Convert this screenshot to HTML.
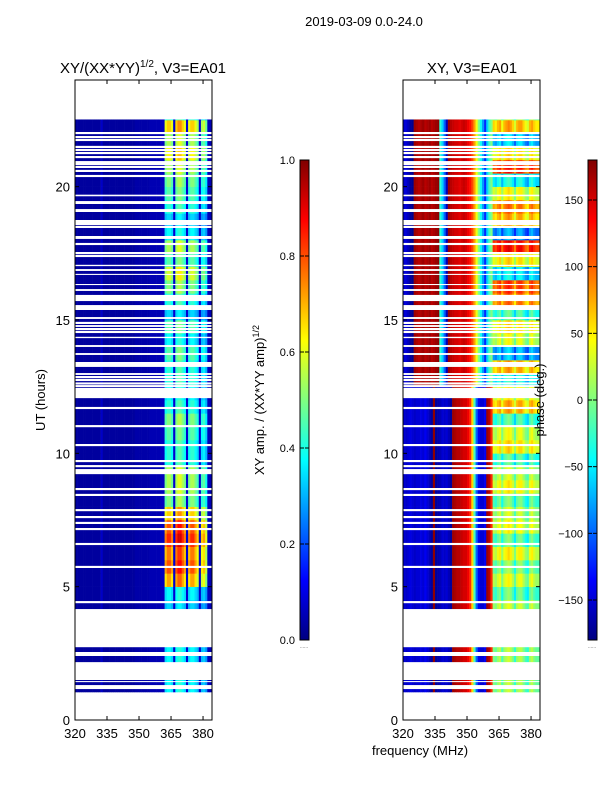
<!DOCTYPE html>
<html><head><meta charset="utf-8"><title>XY amplitude and phase</title>
<style>
html,body{margin:0;padding:0;background:#fff;}
svg{display:block;font-family:"Liberation Sans","DejaVu Sans",sans-serif;}
</style></head>
<body>
<svg id="fig" width="600" height="800" viewBox="0 0 600 800" xmlns="http://www.w3.org/2000/svg">
<defs>
<linearGradient id="jet" x1="0" y1="1" x2="0" y2="0">
<stop offset="0" stop-color="rgb(0,0,128)"/>
<stop offset="0.125" stop-color="rgb(0,0,255)"/>
<stop offset="0.375" stop-color="rgb(0,255,255)"/>
<stop offset="0.5" stop-color="rgb(128,255,128)"/>
<stop offset="0.625" stop-color="rgb(255,255,0)"/>
<stop offset="0.875" stop-color="rgb(255,0,0)"/>
<stop offset="1" stop-color="rgb(128,0,0)"/>
</linearGradient>
</defs>
<text x="364" y="26" font-size="13" text-anchor="middle">2019-03-09 0.0-24.0</text>
<text x="143" y="73" font-size="15" text-anchor="middle">XY/(XX*YY)<tspan font-size="10" dy="-6">1/2</tspan><tspan dy="6">, V3=EA01</tspan></text>
<text x="472" y="73" font-size="15" text-anchor="middle">XY, V3=EA01</text>
<g id="ampCells"></g>
<g id="phaseCells"></g>
<g id="axes"></g>
<text transform="translate(45,400) rotate(-90)" font-size="13" text-anchor="middle">UT (hours)</text>
<text x="420" y="755" font-size="13" text-anchor="middle">frequency (MHz)</text>
<rect x="300" y="160" width="9" height="480" fill="url(#jet)" stroke="#000" stroke-width="1"/>
<rect x="588" y="160" width="9" height="480" fill="url(#jet)" stroke="#000" stroke-width="1"/>
<g id="cbticks"></g>
<text transform="translate(264,400) rotate(-90)" font-size="13" text-anchor="middle">XY amp. / (XX*YY amp)<tspan font-size="9" dy="-5">1/2</tspan></text>
<text transform="translate(544,400) rotate(-90)" font-size="13" text-anchor="middle">phase (deg.)</text>
<text x="304" y="648" font-size="5" text-anchor="middle" fill="#555">......</text>
<text x="592" y="648" font-size="5" text-anchor="middle" fill="#555">......</text>
</svg>
<script>
const freqStart = 320;
const ampProfile = [0.03,0.03,0.03,0.03,0.03,0.03,0.03,0.03,0.03,0.03,0.03,0.03,0.07,
0.03,0.03,0.03,0.03,0.03,0.03,0.03,0.03,0.03,0.03,0.03,0.03,0.03,0.03,0.03,0.04,0.04,0.04,0.04,0.04,0.04,0.04,0.05,0.05,0.05,0.05,0.05,0.06,0.06,
0.38,0.42,0.42,0.38,0.08,0.42,0.46,0.46,0.42,0.38,0.08,0.38,0.42,0.42,0.38,0.34,0.08,0.34,0.36,0.3,0.06,0.05];
const ampTimeScale = [0.9,0.9,0.9,0.9,0.9,0.9,0.9,0.9,0.8,0.9,1.7,1.9,1.8,2.0,1.9,1.6,1.2,1.3,1.3,1.0,1.0,1.1,1.2,1.0,0.9,1.0,1.0,1.1,0.9,1.1,0.8,1.0,1.2,1.4,1.1,1.3,0.9,0.8,1.0,1.1,1.2,1.3,1.5,1.3,1.6,1.0,1.0,1.0];
const phaseProfile = [-150,-155,-150,-145,-150,-155,-150,-150,-145,-150,-140,-150,-160,
-170,175,-170,-165,-160,-150,-155,-150,-160,-170,
170,165,160,160,155,150,150,140,120,
60,-20,
-100,-140,-150,-150,-140,
170,160,120,
0,-10,10,20,-20,10,20,30,20,0,-30,10,20,20,0,-20,-30,10,20,0,-10,-10];
const phaseProfileUpper = [-150,-150,-160,-170,-175,
170,165,160,165,170,160,165,170,160,165,170,175,
-30,-60,-100,-160,170,
160,155,150,150,145,150,155,150,140,130,110,80,40,0,
-40,-80,-120,-60,-20,0,
0,-10,10,20,-20,10,20,30,20,0,-30,10,20,20,0,-20,-30,10,20,0,-10,-10];
const upperStartHour = 12.5;
const phaseTimeOffset = [0,0,0,0,0,0,0,0,10,-20,20,-10,30,-20,25,10,-20,30,10,-30,40,20,-30,60,30,-50,60,-80,20,40,-30,80,100,-60,40,120,-90,60,80,30,-50,110,40,-70,60,0,0,0];
const dataRange = [1.05, 22.52];
const gaps = [[21.97,22.05],[21.82,21.9],[21.71,21.79],[21.45,21.53],[21.335,21.415],[21.22,21.3],[21.07,21.15],[20.88,20.96],[20.81,20.89],[20.7,20.78],[20.55,20.63],[20.36,20.44],[19.64,19.7],[19.35,19.46],[19.05,19.16],[18.56,18.75],[18.45,18.53],[18.04,18.15],[17.81,17.89],[17.47,17.55],[17.36,17.44],[17.02,17.07],[16.84,16.91],[16.69,16.73],[16.31,16.35],[16.09,16.16],[15.71,15.94],[15.375,15.56],[15.04,15.11],[14.85,14.93],[14.74,14.81],[14.62,14.7],[14.51,14.59],[14.32,14.37],[13.99,14.06],[13.69,13.76],[13.24,13.425],[12.94,13.01],[12.82,12.9],[12.71,12.79],[12.58,12.66],[12.48,12.56],[12.07,12.45],[11.66,11.74],[10.98,11.06],[10.27,10.35],[9.67,9.75],[9.48,9.56],[9.22,9.41],[8.62,8.7],[8.4,8.48],[7.83,7.91],[7.57,7.65],[7.35,7.43],[7.12,7.2],[6.56,6.64],[5.7,5.78],[4.38,4.46],[2.73,4.16],[2.4,2.55],[1.5,2.17],[1.42,1.46],[1.16,1.31]];
const yTicks = [0,5,10,15,20];
const xTicks = [320,335,350,365,380];
const ampCbTicks = ["0.0","0.2","0.4","0.6","0.8","1.0"];
const phaseCbTicks = ["\u2212150","\u2212100","\u221250","0","50","100","150"];
const phaseCbValues = [-150,-100,-50,0,50,100,150];

const NS = "http://www.w3.org/2000/svg";
const AX = {w:137, y0:80, h:640, fmin:320, fmax:384.2, tmin:0, tmax:24};
const panels = [{x0:75, g:'ampCells', kind:'amp'},{x0:403, g:'phaseCells', kind:'phase'}];
function xScale(x0, f){ return x0 + (f-AX.fmin)/(AX.fmax-AX.fmin)*AX.w; }
function yScale(h){ return AX.y0 + AX.h - (h-AX.tmin)/(AX.tmax-AX.tmin)*AX.h; }
function clamp(v){ return Math.max(0, Math.min(1, v)); }
function jet(v){
  v = clamp(v);
  const r = clamp(1.5-Math.abs(4*v-3)), g = clamp(1.5-Math.abs(4*v-2)), b = clamp(1.5-Math.abs(4*v-1));
  return 'rgb('+Math.round(r*255)+','+Math.round(g*255)+','+Math.round(b*255)+')';
}
function mk(tag, attrs){ const e = document.createElementNS(NS, tag); for (const k in attrs) e.setAttribute(k, attrs[k]); return e; }

panels.forEach(p => {
  const g = document.getElementById(p.g);
  const nT = ampTimeScale.length, dt = 24/nT;
  for (let t=0; t<nT; t++){
    const h0 = Math.max(t*dt, dataRange[0]), h1 = Math.min((t+1)*dt, dataRange[1]);
    if (h1 <= h0) continue;
    const prof = (t*dt >= upperStartHour) ? phaseProfileUpper : phaseProfile;
    for (let i=0; i<ampProfile.length; i++){
      const f0 = freqStart + i, f1 = f0 + 1;
      let col;
      if (p.kind === 'amp'){
        const a = ampProfile[i];
        col = jet(a < 0.2 ? a : Math.min(1, a*ampTimeScale[t]));
      } else {
        let ph = prof[i] + (f0 >= 362 ? phaseTimeOffset[t] : 0);
        ph = ((ph + 180) % 360 + 360) % 360 - 180;
        col = jet((ph+180)/360);
      }
      const x0 = xScale(p.x0, f0), x1 = Math.min(xScale(p.x0, f1), p.x0+AX.w);
      const r = mk('rect', {x:x0.toFixed(2), y:yScale(h1).toFixed(2), width:(x1-x0+0.3).toFixed(2), height:(yScale(h0)-yScale(h1)+0.3).toFixed(2), fill:col});
      
      
      g.appendChild(r);
    }
  }
  gaps.forEach(gp => {
    const r = mk('rect', {x:p.x0, y:yScale(gp[1]).toFixed(2), width:AX.w, height:(yScale(gp[0])-yScale(gp[1])).toFixed(2), fill:'#fff'});
    
    
    g.appendChild(r);
  });
});

const axes = document.getElementById('axes');
panels.forEach(p => {
  const fr = mk('rect', {x:p.x0, y:AX.y0, width:AX.w, height:AX.h, fill:'none', stroke:'#000', 'stroke-width':1});
  
  
  axes.appendChild(fr);
  yTicks.forEach(v => {
    const y = yScale(v);
    axes.appendChild(mk('line', {x1:p.x0, x2:p.x0+4, y1:y, y2:y, stroke:'#000'}));
    axes.appendChild(mk('line', {x1:p.x0+AX.w-4, x2:p.x0+AX.w, y1:y, y2:y, stroke:'#000'}));
    const t = mk('text', {x:p.x0-5, y:y+5, 'font-size':13, 'text-anchor':'end'});
    
    
    t.textContent = v; axes.appendChild(t);
  });
  xTicks.forEach(v => {
    const x = xScale(p.x0, v);
    axes.appendChild(mk('line', {x1:x, x2:x, y1:AX.y0+AX.h-4, y2:AX.y0+AX.h, stroke:'#000'}));
    axes.appendChild(mk('line', {x1:x, x2:x, y1:AX.y0, y2:AX.y0+4, stroke:'#000'}));
    const t = mk('text', {x:x, y:AX.y0+AX.h+18, 'font-size':13, 'text-anchor':'middle'});
    
    
    t.textContent = v; axes.appendChild(t);
  });
});

const cb = document.getElementById('cbticks');
ampCbTicks.forEach((lab, i) => {
  const y = 640 - (i/(ampCbTicks.length-1))*480;
  cb.appendChild(mk('line', {x1:300, x2:304, y1:y, y2:y, stroke:'#000'}));
  cb.appendChild(mk('line', {x1:305, x2:309, y1:y, y2:y, stroke:'#000'}));
  const t = mk('text', {x:295, y:y+4, 'font-size':11, 'text-anchor':'end'});
  
  
  t.textContent = lab; cb.appendChild(t);
});
phaseCbTicks.forEach((lab, i) => {
  const y = 640 - ((phaseCbValues[i]+180)/360)*480;
  cb.appendChild(mk('line', {x1:588, x2:592, y1:y, y2:y, stroke:'#000'}));
  cb.appendChild(mk('line', {x1:593, x2:597, y1:y, y2:y, stroke:'#000'}));
  const t = mk('text', {x:583, y:y+4, 'font-size':11, 'text-anchor':'end'});
  
  
  t.textContent = lab; cb.appendChild(t);
});
</script>
</body></html>
